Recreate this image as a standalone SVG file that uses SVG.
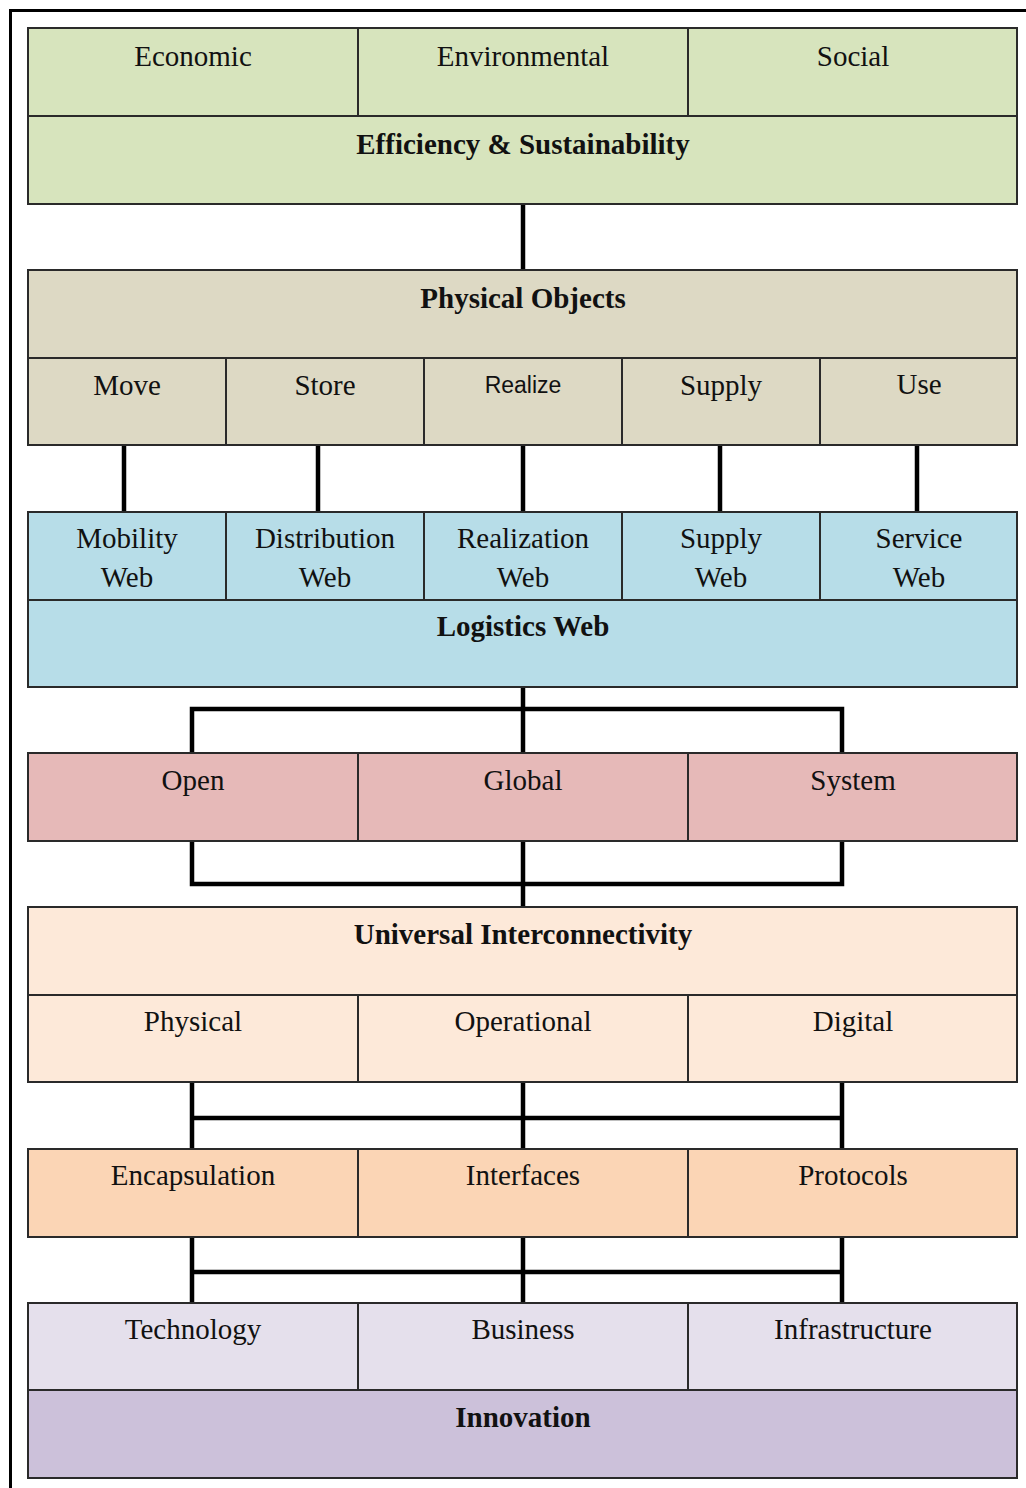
<svg xmlns="http://www.w3.org/2000/svg" width="1026" height="1488" viewBox="0 0 1026 1488">
  <style>
    .box { stroke: #2a2a2a; stroke-width: 2; }
    .green { fill: #d7e4bd; }
    .tan { fill: #ddd9c4; }
    .blue { fill: #b7dde8; }
    .pink { fill: #e6b9b8; }
    .peach1 { fill: #fde9d9; }
    .peach2 { fill: #fbd5b5; }
    .lav1 { fill: #e5e0ec; }
    .lav2 { fill: #ccc1da; }
    text { font-family: "Liberation Serif", "Times New Roman", serif; font-size: 29px; fill: #111; text-anchor: middle; }
    .b { font-weight: bold; }
    .sans { font-family: "Liberation Sans", Arial, sans-serif; font-size: 23px; }
    .conn { stroke: #000; stroke-width: 4.5; fill: none; stroke-linecap: square; }
  </style>

  <!-- frame -->
  <path d="M10.5 1488 V10.5 H1026" fill="none" stroke="#000" stroke-width="3"/>

  <!-- connectors -->
  <g id="connectors">
    <path class="conn" d="M523 205 V269"/>
    <path class="conn" d="M124 446 V511 M318 446 V511 M523 446 V511 M720 446 V511 M917 446 V511"/>
    <path class="conn" d="M523 688 V752 M192 752 V709 H842 V752"/>
    <path class="conn" d="M192 842 V884 H842 V842 M523 842 V906"/>
    <path class="conn" d="M192 1083 V1148 M523 1083 V1148 M842 1083 V1148 M192 1118 H842"/>
    <path class="conn" d="M192 1238 V1302 M523 1238 V1302 M842 1238 V1302 M192 1272 H842"/>
  </g>

  <!-- efficiency & sustainability -->
  <g id="sustainability">
    <rect class="box green" x="28" y="28" width="330" height="88"/>
    <rect class="box green" x="358" y="28" width="330" height="88"/>
    <rect class="box green" x="688" y="28" width="329" height="88"/>
    <rect class="box green" x="28" y="116" width="989" height="88"/>
    <text x="193" y="66">Economic</text>
    <text x="523" y="66">Environmental</text>
    <text x="853" y="66">Social</text>
    <text class="b" x="523" y="154">Efficiency &amp; Sustainability</text>
  </g>

  <!-- physical objects -->
  <g id="physical-objects">
    <rect class="box tan" x="28" y="270" width="989" height="88"/>
    <rect class="box tan" x="28" y="358" width="198" height="87"/>
    <rect class="box tan" x="226" y="358" width="198" height="87"/>
    <rect class="box tan" x="424" y="358" width="198" height="87"/>
    <rect class="box tan" x="622" y="358" width="198" height="87"/>
    <rect class="box tan" x="820" y="358" width="197" height="87"/>
    <text class="b" x="523" y="308">Physical Objects</text>
    <text x="127" y="395">Move</text>
    <text x="325" y="395">Store</text>
    <text class="sans" x="523" y="393">Realize</text>
    <text x="721" y="395">Supply</text>
    <text x="919" y="394">Use</text>
  </g>

  <!-- logistics web -->
  <g id="logistics-web">
    <rect class="box blue" x="28" y="512" width="198" height="88"/>
    <rect class="box blue" x="226" y="512" width="198" height="88"/>
    <rect class="box blue" x="424" y="512" width="198" height="88"/>
    <rect class="box blue" x="622" y="512" width="198" height="88"/>
    <rect class="box blue" x="820" y="512" width="197" height="88"/>
    <rect class="box blue" x="28" y="600" width="989" height="87"/>
    <text x="127" y="548">Mobility</text><text x="127" y="587">Web</text>
    <text x="325" y="548">Distribution</text><text x="325" y="587">Web</text>
    <text x="523" y="548">Realization</text><text x="523" y="587">Web</text>
    <text x="721" y="548">Supply</text><text x="721" y="587">Web</text>
    <text x="919" y="548">Service</text><text x="919" y="587">Web</text>
    <text class="b" x="523" y="636">Logistics Web</text>
  </g>

  <!-- open global system -->
  <g id="open-global-system">
    <rect class="box pink" x="28" y="753" width="330" height="88"/>
    <rect class="box pink" x="358" y="753" width="330" height="88"/>
    <rect class="box pink" x="688" y="753" width="329" height="88"/>
    <text x="193" y="790">Open</text>
    <text x="523" y="790">Global</text>
    <text x="853" y="790">System</text>
  </g>

  <!-- universal interconnectivity -->
  <g id="interconnectivity">
    <rect class="box peach1" x="28" y="907" width="989" height="88"/>
    <rect class="box peach1" x="28" y="995" width="330" height="87"/>
    <rect class="box peach1" x="358" y="995" width="330" height="87"/>
    <rect class="box peach1" x="688" y="995" width="329" height="87"/>
    <text class="b" x="523" y="944">Universal Interconnectivity</text>
    <text x="193" y="1031">Physical</text>
    <text x="523" y="1031">Operational</text>
    <text x="853" y="1031">Digital</text>
  </g>

  <!-- means -->
  <g id="means">
    <rect class="box peach2" x="28" y="1149" width="330" height="88"/>
    <rect class="box peach2" x="358" y="1149" width="330" height="88"/>
    <rect class="box peach2" x="688" y="1149" width="329" height="88"/>
    <text x="193" y="1185">Encapsulation</text>
    <text x="523" y="1185">Interfaces</text>
    <text x="853" y="1185">Protocols</text>
  </g>

  <!-- innovation -->
  <g id="innovation">
    <rect class="box lav1" x="28" y="1303" width="330" height="87"/>
    <rect class="box lav1" x="358" y="1303" width="330" height="87"/>
    <rect class="box lav1" x="688" y="1303" width="329" height="87"/>
    <rect class="box lav2" x="28" y="1390" width="989" height="88"/>
    <text x="193" y="1339">Technology</text>
    <text x="523" y="1339">Business</text>
    <text x="853" y="1339">Infrastructure</text>
    <text class="b" x="523" y="1427">Innovation</text>
  </g>
</svg>
